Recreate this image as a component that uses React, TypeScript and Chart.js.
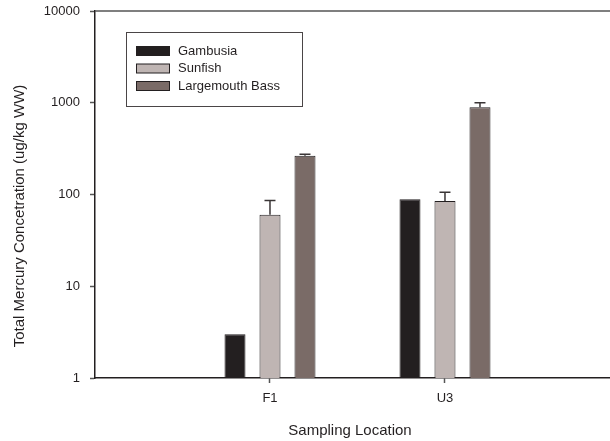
import React, { useEffect, useRef } from "react";
import { Chart, registerables } from "chart.js";

Chart.register(...registerables);

const categories = ["F1", "U3"];
const seriesNames = ["Gambusia", "Sunfish", "Largemouth Bass"];
const gambusia = [3.0, 88.7];
const sunfish = [60, 85];
const bass = [265, 892];
const gambusiaErr = [0, 0];
const sunfishErr = [26, 21];
const bassErr = [9, 108];
const yTicks = [1, 10, 100, 1000, 10000];
const yTitle = "Total Mercury Concetration (ug/kg WW)";
const xTitle = "Sampling Location";

const colors = ["#231f20", "#bfb5b3", "#7a6b67"];
const FONT = "'Liberation Sans', Arial, sans-serif";
const INK = "#231f20";

export default function App() {
  const ref = useRef<HTMLCanvasElement | null>(null);

  useEffect(() => {
    const canvas = ref.current;
    if (!canvas) return;
    const values = [gambusia, sunfish, bass];
    const errors = [gambusiaErr, sunfishErr, bassErr];

    const extras = {
      id: "extras",
      afterDatasetsDraw(chart: any) {
        const ctx = chart.ctx;
        const ys = chart.scales.y;
        const area = chart.chartArea;
        ctx.save();
        // error bars
        ctx.strokeStyle = "#3a3536";
        ctx.lineWidth = 1.5;
        values.forEach((vals, d) => {
          const meta = chart.getDatasetMeta(d);
          meta.data.forEach((el: any, i: number) => {
            const e = errors[d][i];
            if (!e) return;
            const top = ys.getPixelForValue(vals[i] + e);
            ctx.beginPath();
            ctx.moveTo(el.x, el.y);
            ctx.lineTo(el.x, top);
            ctx.moveTo(el.x - 5.5, top);
            ctx.lineTo(el.x + 5.5, top);
            ctx.stroke();
          });
        });
        // top frame line
        ctx.strokeStyle = "#555";
        ctx.lineWidth = 1.5;
        ctx.beginPath();
        ctx.moveTo(area.left, area.top);
        ctx.lineTo(area.right, area.top);
        ctx.stroke();
        // legend
        const lx = 126, ly = 32, lw = 176, lh = 74;
        ctx.fillStyle = "#fff";
        ctx.fillRect(lx, ly, lw, lh);
        ctx.strokeStyle = "#4a4546";
        ctx.lineWidth = 1;
        ctx.strokeRect(lx + 0.5, ly + 0.5, lw, lh);
        ctx.font = "13px " + FONT;
        ctx.textBaseline = "middle";
        ctx.textAlign = "left";
        seriesNames.forEach((name, k) => {
          const cy = 51 + k * 17.5;
          ctx.fillStyle = colors[k];
          ctx.fillRect(136, cy - 4.5, 34, 9);
          ctx.strokeStyle = INK;
          ctx.strokeRect(136.5, cy - 4.5, 33, 9);
          ctx.fillStyle = INK;
          ctx.fillText(name, 178, cy);
        });
        // axis titles
        ctx.font = "15px " + FONT;
        ctx.fillStyle = INK;
        ctx.textAlign = "center";
        ctx.fillText(xTitle, 350, 431);
        ctx.translate(20, 216);
        ctx.rotate(-Math.PI / 2);
        ctx.fillText(yTitle, 0, 0);
        ctx.restore();
      },
    };

    const chart = new Chart(canvas, {
      type: "bar",
      data: {
        datasets: seriesNames.map((name, d) => ({
          label: name,
          data: categories.map((c, i) => ({ x: i + 1, y: values[d][i] })),
          backgroundColor: colors[d],
          borderColor: INK,
          borderWidth: 1,
          categoryPercentage: 0.6,
          barPercentage: 0.6,
        })),
      },
      options: {
        responsive: false,
        animation: false,
        devicePixelRatio: 1,
        layout: { padding: { top: 11, right: 0, left: 0, bottom: 0 } },
        plugins: { legend: { display: false }, tooltip: { enabled: false }, title: { display: false } },
        scales: {
          x: {
            type: "linear",
            offset: false,
            min: 0,
            max: 2.943,
            afterBuildTicks(scale: any) {
              scale.ticks = categories.map((c, i) => ({ value: i + 1 }));
            },
            afterFit(scale: any) {
              scale.height = 63;
              scale.paddingLeft = 0;
              scale.paddingRight = 0;
            },
            ticks: {
              callback: (v: any) => categories[Math.round(v) - 1] ?? "",
              font: { family: FONT, size: 13 },
              color: INK,
              padding: 8,
              maxRotation: 0,
            },
            grid: { offset: false, drawOnChartArea: false, drawTicks: true, tickLength: 5, tickColor: "#555", tickWidth: 1.5 },
            border: { display: true, color: INK, width: 1.5 },
          },
          y: {
            type: "logarithmic",
            min: 1,
            max: 10000,
            afterBuildTicks(scale: any) {
              scale.ticks = yTicks.map((v) => ({ value: v }));
            },
            afterFit(scale: any) {
              scale.width = 95;
              scale.paddingTop = 0;
              scale.paddingBottom = 0;
            },
            ticks: {
              callback: (v: any) => String(v),
              font: { family: FONT, size: 13 },
              color: INK,
              padding: 10,
            },
            grid: { drawOnChartArea: false, drawTicks: true, tickLength: 5, tickColor: "#555", tickWidth: 1.5 },
            border: { display: true, color: INK, width: 1.5 },
          },
        },
      },
      plugins: [extras],
    } as any);
    return () => chart.destroy();
  }, []);

  return (
    <div style={{ position: "absolute", left: 0, top: 0, width: 610, height: 441, background: "#fff" }}>
      <canvas ref={ref} width={610} height={441} />
    </div>
  );
}
